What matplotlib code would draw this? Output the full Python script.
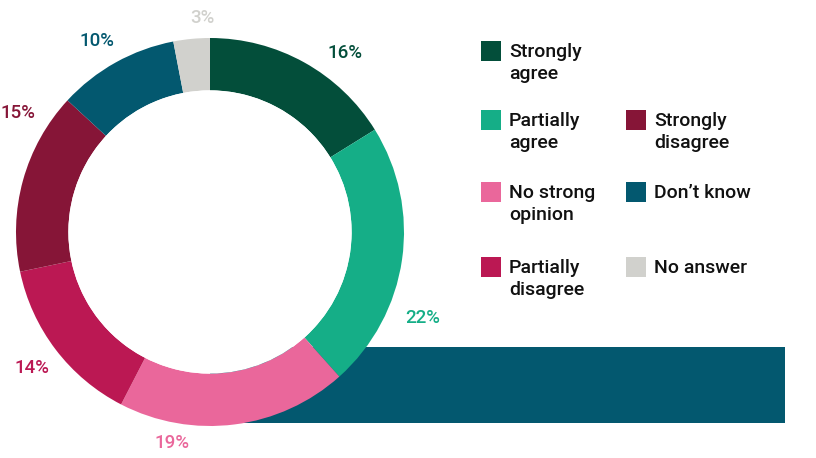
import matplotlib
matplotlib.use("Agg")
import matplotlib.pyplot as plt
from matplotlib.patches import Rectangle, Circle

# data
labels = ["Strongly agree", "Partially agree", "No strong opinion", "Partially disagree",
          "Strongly disagree", "Don\u2019t know", "No answer"]
legend_text = ["Strongly\nagree", "Partially\nagree", "No strong\nopinion", "Partially\ndisagree",
               "Strongly\ndisagree", "Don\u2019t know", "No answer"]
values = [16, 22, 19, 14, 15, 10, 3]
colors = ["#034e3a", "#15ae87", "#ea679b", "#bb1853", "#861537", "#03586f", "#d1d1cd"]

plt.rcParams['font.family'] = ['Roboto', 'DejaVu Sans']

W, H = 816, 458
fig = plt.figure(figsize=(W / 100, H / 100), dpi=100)
ax = fig.add_axes([0, 0, 1, 1])

cx, cy, R = 210, H - 232, 194

# background band behind the donut
ax.add_patch(Rectangle((cx, H - 423), 785 - cx, 76, color="#03586f", zorder=0, lw=0))

wedges, _ = ax.pie(values, colors=colors, startangle=90, counterclock=False,
                   center=(cx, cy), radius=R, frame=True,
                   wedgeprops=dict(width=R * 0.27, linewidth=0))
for w in wedges:
    w.set_zorder(1)
# white hole covering the band
ax.add_patch(Circle((cx, cy), R * 0.73, color="white", zorder=2, lw=0))

# percentage labels (pixel positions of label centres)
label_pos = [(345, 53), (423, 318), (172, 443), (32, 368), (18, 113), (97, 41), (202, 18)]
for v, c, (px, py) in zip(values, colors, label_pos):
    ax.text(px, H - py, f"{v}%", color=c, fontsize=13.5, fontweight="medium",
            ha="center", va="center", zorder=3)

# legend drawn by hand
col_x = [481, 626]
text_x = [509, 654]
row_y = [41, 110, 182, 257]
slots = [(0, 0), (0, 1), (0, 2), (0, 3), (1, 1), (1, 2), (1, 3)]
for (ci, ri), lab, c in zip(slots, legend_text, colors):
    ax.add_patch(Rectangle((col_x[ci], H - row_y[ri] - 20), 20, 20, color=c, lw=0))
    ax.text(text_x[ci], H - row_y[ri] - 2, lab, fontsize=14, fontweight="medium",
            color="#111111", ha="left", va="top", linespacing=1.3)

ax.set_xlim(0, W)
ax.set_ylim(0, H)
ax.set_aspect("equal")
ax.axis("off")
fig.savefig("out.png", dpi=100)
